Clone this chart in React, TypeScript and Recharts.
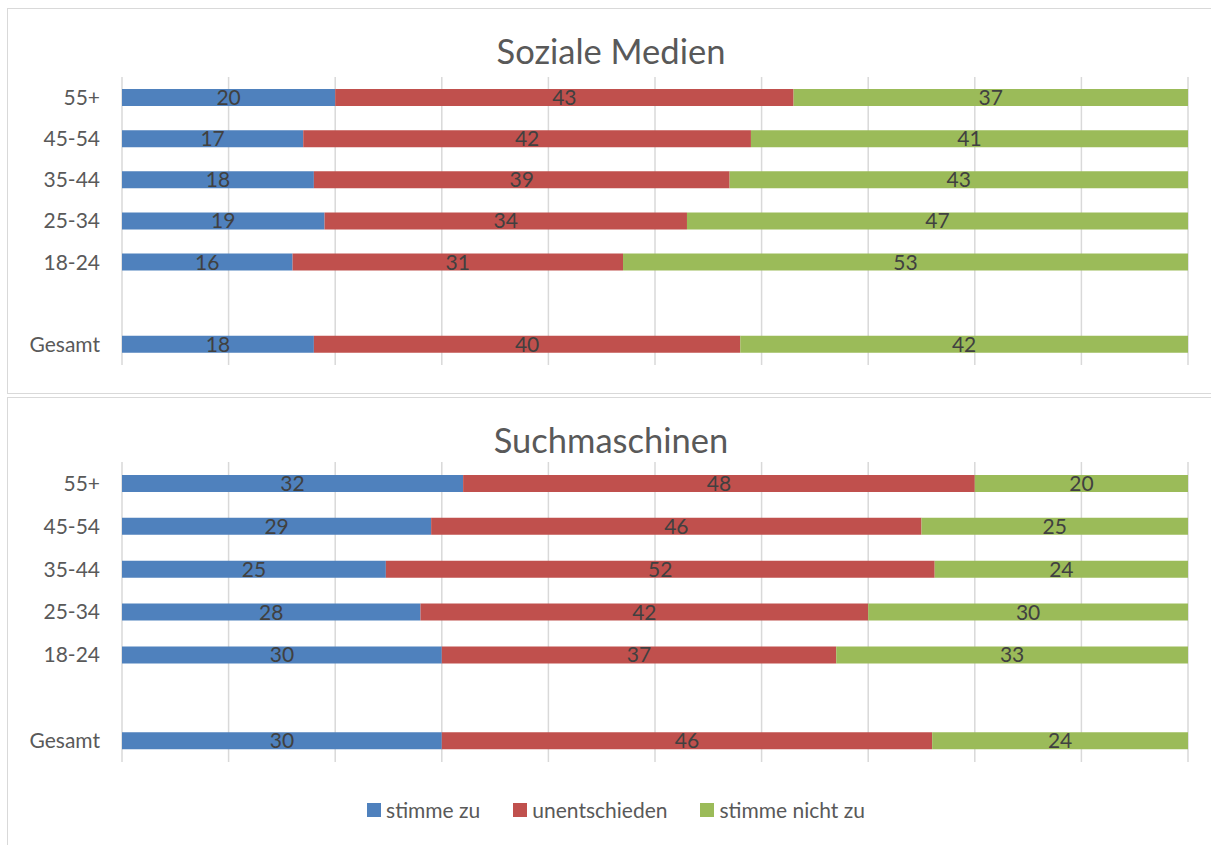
import React from 'react';
import { BarChart, Bar, XAxis, YAxis, CartesianGrid, LabelList, Legend } from 'recharts';

// categories (top to bottom), empty slot between 18-24 and Gesamt
const categories = ['55+', '45-54', '35-44', '25-34', '18-24', '', 'Gesamt'];

// series names, in legend order
const seriesNames = ['stimme zu', 'unentschieden', 'stimme nicht zu'];

// Soziale Medien
const socialZu = [20, 17, 18, 19, 16, null, 18];
const socialUnent = [43, 42, 39, 34, 31, null, 40];
const socialNicht = [37, 41, 43, 47, 53, null, 42];

// Suchmaschinen
const searchZu = [32, 29, 25, 28, 30, null, 30];
const searchUnent = [48, 46, 52, 42, 37, null, 46];
const searchNicht = [20, 25, 24, 30, 33, null, 24];

const gridTicks = [0, 0.1, 0.2, 0.3, 0.4, 0.5, 0.6, 0.7, 0.8, 0.9, 1];

const FONT = 'Lato, "Open Sans", sans-serif';
const BLUE = '#4F81BD';
const RED = '#C0504D';
const GREEN = '#9BBB59';

const build = (zu: (number | null)[], unent: (number | null)[], nicht: (number | null)[]) =>
  categories.map((name, i) => ({ name, zu: zu[i], unent: unent[i], nicht: nicht[i] }));

const socialData = build(socialZu, socialUnent, socialNicht);
const searchData = build(searchZu, searchUnent, searchNicht);

const labelStyle = { fill: '#404040', fontSize: 21, fontFamily: FONT };

function LegendContent(props: any) {
  const items = [...(props.payload || [])].sort(
    (a: any, b: any) => seriesNames.indexOf(a.value) - seriesNames.indexOf(b.value)
  );
  return (
    <div style={{ display: 'flex', justifyContent: 'center', gap: 33, paddingLeft: 21, fontFamily: FONT, fontSize: 21, color: '#595959' }}>
      {items.map((it: any) => (
        <div key={it.value} style={{ display: 'flex', alignItems: 'center', gap: 5 }}>
          <span style={{ width: 14, height: 14, background: it.color, display: 'inline-block' }} />
          <span>{it.value}</span>
        </div>
      ))}
    </div>
  );
}

function Panel({ data, height, top, bottom, legend }: { data: any[]; height: number; top: number; bottom: number; legend?: boolean }) {
  return (
    <BarChart
      width={1211}
      height={height}
      data={data}
      layout="vertical"
      stackOffset="expand"
      margin={{ top, right: 23, bottom, left: 0 }}
    >
      <CartesianGrid horizontal={false} stroke="#d9d9d9" strokeWidth={1.5} />
      <XAxis type="number" domain={[0, 1]} ticks={gridTicks} hide />
      <YAxis
        type="category"
        dataKey="name"
        width={122}
        axisLine={false}
        tickLine={false}
        tickMargin={16}
        tick={{ fill: '#595959', fontSize: 21, fontFamily: FONT }}
        interval={0}
      />
      <Bar dataKey="zu" name={seriesNames[0]} stackId="a" fill={BLUE} barSize={17} isAnimationActive={false}>
        <LabelList dataKey="zu" position="center" style={labelStyle} />
      </Bar>
      <Bar dataKey="unent" name={seriesNames[1]} stackId="a" fill={RED} barSize={17} isAnimationActive={false}>
        <LabelList dataKey="unent" position="center" style={labelStyle} />
      </Bar>
      <Bar dataKey="nicht" name={seriesNames[2]} stackId="a" fill={GREEN} barSize={17} isAnimationActive={false}>
        <LabelList dataKey="nicht" position="center" style={labelStyle} />
      </Bar>
      {legend && (
        <Legend
          layout="horizontal"
          verticalAlign="middle"
          align="center"
          content={LegendContent}
          wrapperStyle={{ top: 400, left: 0, width: 1211 }}
        />
      )}
    </BarChart>
  );
}

const titleStyle: React.CSSProperties = {
  position: 'absolute',
  left: 0,
  width: 1222,
  textAlign: 'center',
  fontFamily: FONT,
  fontSize: 34.5,
  color: '#595959',
  lineHeight: '40px',
};

export default function App() {
  return (
    <div style={{ position: 'absolute', left: 0, top: 0, width: 1211, height: 845, overflow: 'hidden', background: '#fff' }}>
      {/* panel borders */}
      <div style={{ position: 'absolute', left: 7, top: 8, width: 1240, height: 384, border: '1px solid #d9d9d9' }} />
      <div style={{ position: 'absolute', left: 7, top: 397, width: 1240, height: 470, border: '1px solid #d9d9d9' }} />

      <div style={{ ...titleStyle, top: 31 }}>Soziale Medien</div>
      <div style={{ ...titleStyle, top: 420 }}>Suchmaschinen</div>

      <div style={{ position: 'absolute', left: 0, top: 0 }}>
        <Panel data={socialData} height={393} top={77} bottom={28} />
      </div>
      <div style={{ position: 'absolute', left: 0, top: 397 }}>
        <Panel data={searchData} height={448} top={65} bottom={83} legend />
      </div>
    </div>
  );
}
